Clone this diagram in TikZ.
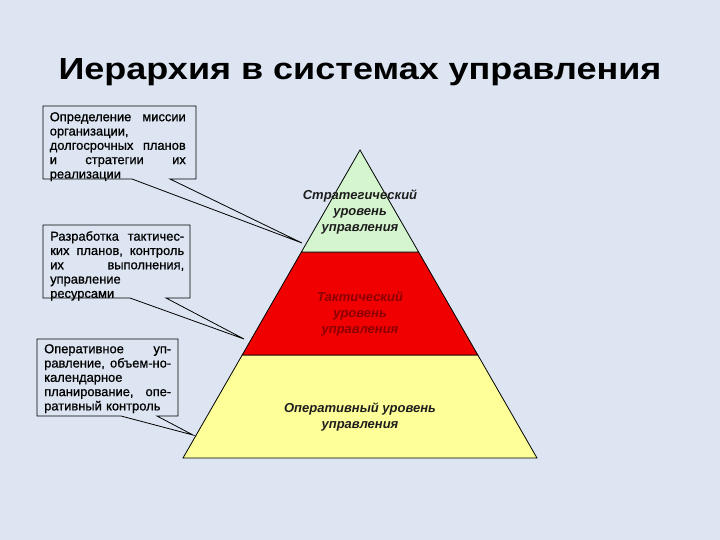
\documentclass[tikz,border=0pt]{standalone}
\usepackage{fontspec}
\setmainfont{Liberation Sans}
\newfontfamily\boxfont[FakeBold=0.8]{Liberation Sans}
\definecolor{bgcol}{RGB}{220,229,241}
\definecolor{stratcol}{RGB}{212,245,206}
\definecolor{tactcol}{RGB}{240,0,0}
\definecolor{opercol}{RGB}{255,255,153}
\definecolor{darktext}{RGB}{30,30,30}
\definecolor{tacttext}{RGB}{140,0,0}
\newcommand{\jl}[2]{\leavevmode\hbox to #1{#2}}
\begin{document}
\begin{tikzpicture}[x=1pt,y=-1pt,
  layer/.style={draw=black, line width=0.8pt, line join=miter},
  callout/.style={draw=black, line width=0.8pt, line join=miter},
  boxtext/.style={anchor=north west, inner sep=0pt, align=left, text=black,
    font=\boxfont\fontsize{12.9}{14.3}\selectfont},
  lvltext/.style={align=center, inner sep=0pt,
    font=\bfseries\itshape\fontsize{13}{16}\selectfont}]
\fill[bgcol] (0,0) rectangle (720,540);
\useasboundingbox (0,0) rectangle (720,540);

% title
\node[anchor=base, inner sep=0pt, font=\bfseries\fontsize{30.5}{36}\selectfont] (title) at (360,80) {\scalebox{1.18}[1]{Иерархия в системах управления}};

% pyramid
\coordinate (A) at (360,150);
\coordinate (L1) at (301.4,252);
\coordinate (R1) at (418.6,252);
\coordinate (L2) at (242.2,355);
\coordinate (R2) at (477.8,355);
\coordinate (BL) at (183,458);
\coordinate (BR) at (537,458);
\filldraw[layer, fill=opercol] (L2) -- (R2) -- (BR) -- (BL) -- cycle;
\filldraw[layer, fill=tactcol] (L1) -- (R1) -- (R2) -- (L2) -- cycle;
\filldraw[layer, fill=stratcol] (A) -- (R1) -- (L1) -- cycle;

\node[lvltext, text=darktext] (strat) at (360,212) {Стратегический\\уровень\\управления};
\node[lvltext, text=tacttext] (tact) at (360,314) {Тактический\\уровень\\управления};
\node[lvltext, text=darktext] (oper) at (360,417) {Оперативный уровень\\управления};

% callout 1
\coordinate (t1) at (302,243);
\draw[callout] (132,179) -- (43,179) -- (43,106) -- (196,106) -- (196,179) -- (170,179) -- (t1) -- cycle;
\node[boxtext, text width=136pt] (d1) at (49.6,112) {\jl{136pt}{Определение\hfill миссии}\\организации,\\\jl{136pt}{долгосрочных\hfill планов}\\\jl{136pt}{и\hfill стратегии\hfill их}\\реализации};

% callout 2
\coordinate (t2) at (244,339);
\draw[callout] (130,298) -- (43,298) -- (43,225) -- (190,225) -- (190,298) -- (166,298) -- (t2) -- cycle;
\node[boxtext, text width=134pt] (d2) at (50,231) {\jl{134pt}{Разработка\hfill тактичес-}\\\jl{134pt}{ких\hfill планов,\hfill контроль}\\\jl{134pt}{их\hfill выполнения,}\\управление\\ресурсами};

% callout 3
\coordinate (t3) at (193,435);
\draw[callout] (121,416) -- (37,416) -- (37,339) -- (178,339) -- (178,416) -- (157,416) -- (t3) -- cycle;
\node[boxtext, text width=127pt] (d3) at (44,344) {\jl{127pt}{Оперативное\hfill уп-}\\\jl{127pt}{равление,\hfill объем-но-}\\календарное\\\jl{127pt}{планирование,\hfill опе-}\\ративный контроль};
\end{tikzpicture}
\end{document}
